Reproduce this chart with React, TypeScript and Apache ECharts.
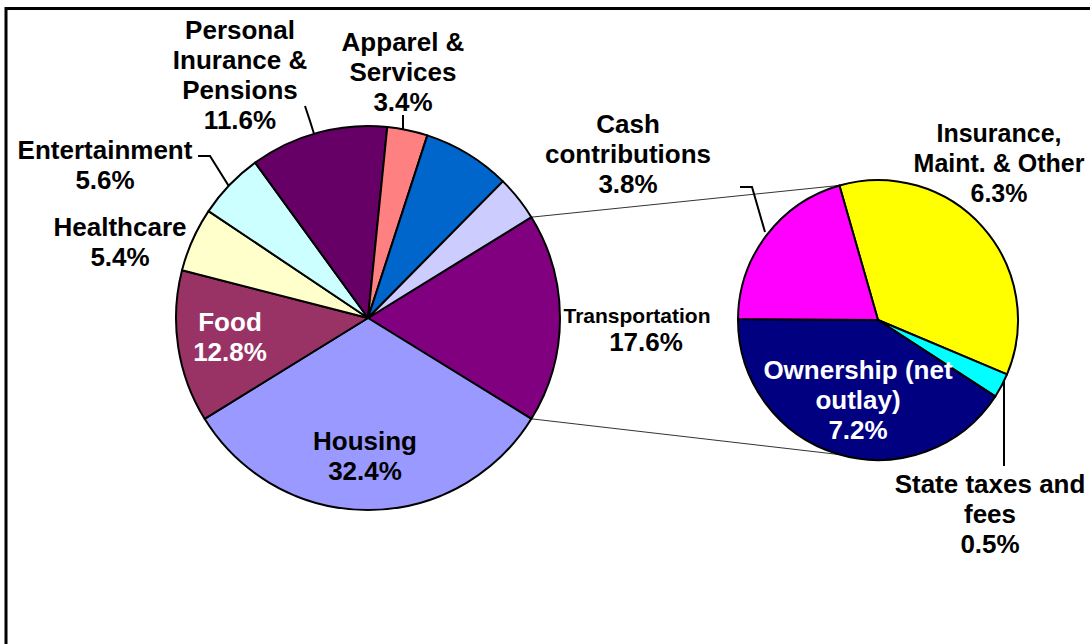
import React, { useEffect, useRef } from 'react';
import * as echarts from 'echarts';

// ---- Data ----
const mainNames = [
  'Transportation',
  'Housing',
  'Food',
  'Healthcare',
  'Entertainment',
  'Personal\nInurance &\nPensions',
  'Apparel &\nServices',
  'All Other',
  'Cash\ncontributions',
];
const mainValues = [17.6, 32.4, 12.8, 5.4, 5.6, 11.6, 3.4, 7.4, 3.8];
const mainColors = ['#800080', '#9999FF', '#993366', '#FFFFCC', '#CCFFFF', '#660066', '#FF8080', '#0066CC', '#CCCCFF'];

const subNames = ['Insurance,\nMaint. & Other', 'State taxes and\nfees', 'Ownership (net\noutlay)', 'Gasoline'];
const subValues = [6.3, 0.5, 7.2, 3.6];
const subColors = ['#FFFF00', '#00FFFF', '#000080', '#FF00FF'];

// ---- Layout (label placement) ----
const mainLabelPos: (number[] | null)[] = [
  [646, 329], [365, 456], [230, 337], [120, 242], [105, 165], [240, 75], [403, 72], null, [628, 154],
];
const mainLabelLines: (number[][] | null)[] = [
  null, null, null, null,
  [[230, 188], [210, 156], [198, 156]],
  [[315, 137], [310, 121], [305, 106]],
  [[403, 133], [403, 124], [403, 115]],
  null, null,
];
const mainLabelColors = ['#000', '#000', '#fff', '#000', '#000', '#000', '#000', '#000', '#000'];

const subLabelPos: number[][] = [[999, 163], [990, 514], [858, 400], [738, 187]];
const subLabelLines: (number[][] | null)[] = [
  null,
  [[1004, 378], [1004, 420], [1004, 466]],
  null,
  [[765, 232], [752, 187], [740, 187]],
];
const subLabelColors = ['#000', '#000', '#fff', '#000'];
const subLabelSizes = [25, 26, 26, 26];

const FONT = '"Liberation Sans", Arial, sans-serif';

export default function App() {
  const ref = useRef<HTMLDivElement>(null);
  useEffect(() => {
    if (!ref.current) return;
    const chart = echarts.init(ref.current, null, { renderer: 'svg' });

    const total = mainValues.reduce((a, b) => a + b, 0);
    const mainStart = (mainValues[0] / total) * 180;
    const c1 = [368, 318];
    const r1 = 192;
    const c2 = [878, 320];
    const r2 = 140;
    const subStart = 106;
    const a1 = (mainStart * Math.PI) / 180;
    const a2 = (subStart * Math.PI) / 180;
    const m1 = [c1[0] + r1 * Math.cos(a1), c1[1] - r1 * Math.sin(a1)];
    const m2 = [c1[0] + r1 * Math.cos(a1), c1[1] + r1 * Math.sin(a1)];
    const s1 = [c2[0] + r2 * Math.cos(a2), c2[1] - r2 * Math.sin(a2)];
    const s2 = [c2[0] + r2 * Math.cos(a2), c2[1] + r2 * Math.sin(a2)];

    const baseLabel = {
      fontFamily: FONT,
      fontWeight: 'bold' as const,
      fontSize: 26,
      lineHeight: 30,
      color: '#000',
    };

    const mainData = mainNames.map((n, i) => ({
      name: n,
      value: mainValues[i],
      itemStyle: { color: mainColors[i] },
      label: { show: i !== 7, color: mainLabelColors[i] },
      labelLine: { show: !!mainLabelLines[i] },
    }));
    const subData = subNames.map((n, i) => ({
      name: n,
      value: subValues[i],
      itemStyle: { color: subColors[i] },
      label: { show: true, color: subLabelColors[i], fontSize: subLabelSizes[i] },
      labelLine: { show: !!subLabelLines[i] },
    }));

    chart.setOption({
      animation: false,
      backgroundColor: '#fff',
      graphic: [
        { type: 'line', z: 1, shape: { x1: m1[0], y1: m1[1], x2: s1[0], y2: s1[1] }, style: { stroke: '#333', lineWidth: 1 } },
        { type: 'line', z: 1, shape: { x1: m2[0], y1: m2[1], x2: s2[0], y2: s2[1] }, style: { stroke: '#333', lineWidth: 1 } },
        { type: 'line', z: 10, shape: { x1: 6, y1: 8.5, x2: 1100, y2: 8.5 }, style: { stroke: '#000', lineWidth: 3 } },
        { type: 'line', z: 10, shape: { x1: 6, y1: 7, x2: 6, y2: 700 }, style: { stroke: '#000', lineWidth: 3 } },
      ],
      series: [
        {
          type: 'pie',
          center: c1,
          radius: r1,
          startAngle: mainStart,
          clockwise: true,
          avoidLabelOverlap: false,
          emphasis: { disabled: true },
          itemStyle: { borderColor: '#000', borderWidth: 2 },
          label: {
            ...baseLabel,
            position: 'outside',
            formatter: (p: any) =>
              p.dataIndex === 0
                ? `{s|${p.name}}\n{b|${p.value.toFixed(1)}%}`
                : `${p.name}\n${p.value.toFixed(1)}%`,
            rich: {
              s: { fontFamily: FONT, fontWeight: 'bold', fontSize: 21, lineHeight: 26, color: '#000', padding: [0, 18, 0, 0] },
              b: { fontFamily: FONT, fontWeight: 'bold', fontSize: 26, lineHeight: 28, color: '#000' },
            },
          },
          labelLine: { show: true, lineStyle: { color: '#000', width: 2 } },
          labelLayout: (params: any) => {
            const i = params.dataIndex;
            const p = mainLabelPos[i];
            if (!p) return {};
            const res: any = { x: p[0], y: p[1], align: 'center', verticalAlign: 'middle' };
            if (mainLabelLines[i]) res.labelLinePoints = mainLabelLines[i];
            return res;
          },
          data: mainData,
        },
        {
          type: 'pie',
          center: c2,
          radius: r2,
          startAngle: subStart,
          clockwise: true,
          avoidLabelOverlap: false,
          emphasis: { disabled: true },
          itemStyle: { borderColor: '#000', borderWidth: 2 },
          label: {
            ...baseLabel,
            position: 'outside',
            formatter: (p: any) => (p.dataIndex === 3 ? ' ' : `${p.name}\n${p.value.toFixed(1)}%`),
          },
          labelLine: { show: true, lineStyle: { color: '#000', width: 2 } },
          labelLayout: (params: any) => {
            const i = params.dataIndex;
            const p = subLabelPos[i];
            const res: any = { x: p[0], y: p[1], align: i === 3 ? 'right' : 'center', verticalAlign: 'middle' };
            if (subLabelLines[i]) res.labelLinePoints = subLabelLines[i];
            return res;
          },
          data: subData,
        },
      ],
    });
    return () => chart.dispose();
  }, []);

  return (
    <div
      ref={ref}
      style={{ position: 'fixed', left: 0, top: 0, width: 1090, height: 644, background: '#fff' }}
    />
  );
}
